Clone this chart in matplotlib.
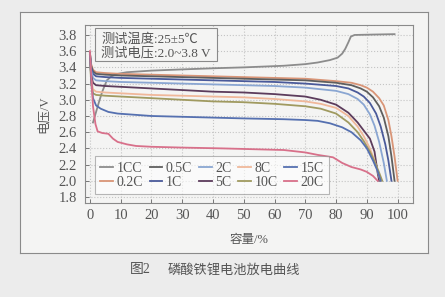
import matplotlib
matplotlib.use("Agg")
import matplotlib.pyplot as plt
from matplotlib.patches import Rectangle

plt.rcParams['font.family'] = ['Liberation Serif', 'Noto Sans CJK SC']

# ---- data (capacity %, voltage V) ----
x_1cc = [1, 2, 3, 4, 5.5, 7, 9, 12, 20, 30, 41, 50, 63, 70, 74, 78, 80.5, 82, 83, 84, 84.8, 86, 92, 99]
v_1cc = [2.72, 2.85, 2.98, 3.10, 3.24, 3.29, 3.32, 3.34, 3.36, 3.375, 3.39, 3.40, 3.42, 3.44,
         3.46, 3.49, 3.52, 3.57, 3.63, 3.71, 3.78, 3.80, 3.805, 3.81]

x_02 = [0, 0.4, 1, 2, 5, 10, 20, 30, 40, 50, 60, 70, 80, 85, 88, 90, 92, 94, 95.5, 97, 98, 99, 100]
v_02 = [3.58, 3.44, 3.37, 3.34, 3.33, 3.32, 3.31, 3.30, 3.29, 3.28, 3.27, 3.26, 3.23, 3.21,
        3.18, 3.15, 3.10, 3.02, 2.93, 2.75, 2.55, 2.30, 2.00]

x_05 = [0, 0.4, 1, 2, 5, 10, 20, 30, 40, 50, 60, 70, 80, 85, 88, 90, 92, 94, 95.5, 97, 98, 99]
v_05 = [3.58, 3.42, 3.35, 3.32, 3.31, 3.30, 3.29, 3.28, 3.27, 3.26, 3.25, 3.24, 3.21, 3.18,
        3.14, 3.10, 3.03, 2.92, 2.78, 2.55, 2.30, 2.00]

x_1 = [0, 0.4, 1, 2, 5, 10, 20, 30, 40, 50, 60, 70, 80, 84, 87, 89, 91, 93, 94.5, 96, 97, 98]
v_1 = [3.57, 3.40, 3.32, 3.29, 3.28, 3.27, 3.26, 3.25, 3.24, 3.23, 3.22, 3.20, 3.17, 3.14,
       3.09, 3.04, 2.96, 2.83, 2.67, 2.45, 2.25, 2.00]

x_2 = [0, 0.4, 1, 2, 5, 10, 20, 30, 40, 50, 60, 70, 80, 84, 87, 89, 91, 92.5, 94, 95.5, 96.5]
v_2 = [3.56, 3.36, 3.27, 3.24, 3.23, 3.22, 3.21, 3.20, 3.19, 3.18, 3.17, 3.15, 3.11, 3.07,
       3.01, 2.94, 2.82, 2.68, 2.48, 2.22, 2.00]

x_5 = [0, 0.4, 1, 2, 5, 10, 20, 30, 40, 50, 60, 70, 75, 80, 84, 87, 89, 91, 92.5, 93.5, 94]
v_5 = [3.55, 3.30, 3.21, 3.18, 3.17, 3.16, 3.14, 3.12, 3.10, 3.09, 3.07, 3.04, 3.00, 2.94,
       2.84, 2.72, 2.62, 2.52, 2.36, 2.10, 2.00]

x_8 = [0, 0.4, 1, 2, 5, 10, 20, 30, 40, 50, 60, 70, 75, 80, 84, 87, 89, 91, 92.5, 93.5, 94.5]
v_8 = [3.55, 3.25, 3.13, 3.10, 3.09, 3.08, 3.06, 3.05, 3.04, 3.03, 3.01, 2.98, 2.95, 2.90,
       2.80, 2.67, 2.55, 2.40, 2.25, 2.12, 2.00]

x_10 = [0, 0.4, 1, 2, 5, 10, 20, 30, 40, 50, 60, 70, 75, 80, 84, 87, 89, 91, 92.5, 94, 95]
v_10 = [3.55, 3.20, 3.08, 3.06, 3.05, 3.04, 3.02, 3.00, 2.98, 2.97, 2.95, 2.92, 2.89, 2.83,
        2.72, 2.60, 2.49, 2.36, 2.24, 2.10, 2.00]

x_15 = [0, 0.5, 1, 2, 3.5, 6, 9, 20, 30, 50, 63, 70, 74, 78, 82, 85, 88, 90, 92, 93.5, 94.5]
v_15 = [3.55, 3.20, 3.02, 2.93, 2.89, 2.85, 2.83, 2.80, 2.79, 2.77, 2.76, 2.75, 2.74, 2.71,
        2.66, 2.60, 2.50, 2.40, 2.25, 2.12, 2.00]

x_20 = [0, 0.5, 1, 1.8, 2.5, 4, 6, 7.5, 9, 12, 15, 20, 30, 43, 63, 70, 74, 79, 82, 85, 88, 90, 92, 93.5]
v_20 = [3.60, 3.25, 2.92, 2.70, 2.61, 2.59, 2.58, 2.52, 2.48, 2.45, 2.43, 2.42, 2.41, 2.40,
        2.38, 2.35, 2.32, 2.29, 2.22, 2.17, 2.14, 2.11, 2.06, 2.00]

labels = ['1CC', '0.2C', '0.5C', '1C', '2C', '5C', '8C', '10C', '15C', '20C']
colors = ['#8c8c8c', '#d99577', '#5e5e5e', '#4a5a9a', '#8aa6d2',
          '#5c3c5c', '#f0b89a', '#a09a60', '#5570b0', '#d8708a']
xs = [x_1cc, x_02, x_05, x_1, x_2, x_5, x_8, x_10, x_15, x_20]
vs = [v_1cc, v_02, v_05, v_1, v_2, v_5, v_8, v_10, v_15, v_20]

xticks = [0, 10, 20, 30, 40, 50, 60, 70, 80, 90, 100]
yticks = [1.8, 2.0, 2.2, 2.4, 2.6, 2.8, 3.0, 3.2, 3.4, 3.6, 3.8]

fig = plt.figure(figsize=(4.45, 2.97), dpi=100)
fig.patch.set_facecolor('#ececec')

# outer panel frame (background axes)
bg = fig.add_axes([20 / 445, 1 - 253 / 297, 408 / 445, 241 / 297], zorder=-5)
bg.set_facecolor('#f4f4f3')
bg.set_xticks([])
bg.set_yticks([])
for s in bg.spines.values():
    s.set_color('#8a8a8a')
    s.set_linewidth(0.8)

ax = fig.add_axes([85 / 445, 1 - 203 / 297, 328 / 445, 178 / 297])
ax.set_facecolor('none')

for x, v, lab, c in zip(xs, vs, labels, colors):
    ax.plot(x, v, color=c, lw=1.3, label=lab)

ax.set_xlim(-1.6, 105)
ax.set_ylim(1.726, 3.923)
ax.set_xticks(xticks)
ax.set_yticks(yticks)
ax.set_yticklabels(['%.1f' % t for t in yticks])
ax.grid(True, linestyle=':', color='#c4c4c4', lw=0.8)
ax.tick_params(direction='in', length=3, width=0.7, colors='#777777',
               labelcolor='#555555', labelsize=10.5)
ax.tick_params(axis='y', pad=6)
ax.tick_params(axis='x', pad=4)
for s in ax.spines.values():
    s.set_color('#8a8a8a')
    s.set_linewidth(0.8)

ax.set_ylabel('电压/V', fontsize=9, color='#555555', labelpad=6)
ax.set_xlabel('容量/%', fontsize=9, color='#555555', labelpad=9)

# test condition box
ax.add_patch(Rectangle((0.030, 0.798), 0.372, 0.185, transform=ax.transAxes,
                       facecolor='#f4f4f3', edgecolor='#8a8a8a', lw=0.8, zorder=3))
ax.text(0.049, 0.921, '测试温度:25±5℃', transform=ax.transAxes, fontsize=9.5,
        color='#555555', va='center', zorder=4)
ax.text(0.049, 0.843, '测试电压:2.0~3.8 V', transform=ax.transAxes, fontsize=9.5,
        color='#555555', va='center', zorder=4)

leg = ax.legend(ncol=5, loc='lower left', bbox_to_anchor=(0.030, 0.05), borderaxespad=0,
                fontsize=10, handlelength=0.9, handletextpad=0.25, columnspacing=0.5,
                labelspacing=0.05, borderpad=0.4, fancybox=False, framealpha=0.6)
leg.get_frame().set_edgecolor('#8a8a8a')
leg.get_frame().set_linewidth(0.8)
for t in leg.get_texts():
    t.set_color('#555555')

fig.text(130 / 445, 1 - 270 / 297, '图2', fontsize=10, color='#555555', va='center')
fig.text(168 / 445, 1 - 270 / 297, '磷酸铁锂电池放电曲线', fontsize=9.5, color='#555555',
         va='center')

fig.savefig('out.png', dpi=100, facecolor=fig.get_facecolor())
